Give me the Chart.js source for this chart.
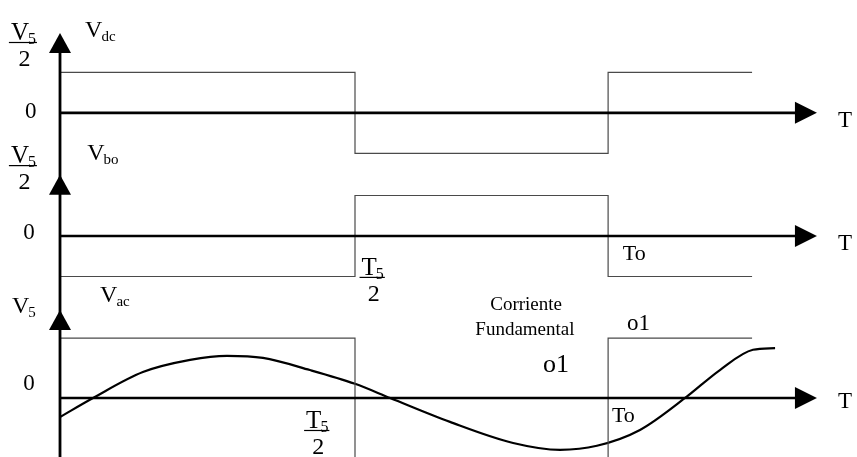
<!DOCTYPE html>
<html>
<head>
<meta charset="utf-8">
<script src="https://cdn.jsdelivr.net/npm/chart.js@4/dist/chart.umd.min.js"></script>
<style>
  html, body { margin: 0; padding: 0; background: #fff; }
  canvas { display: block; }
</style>
</head>
<body>
<canvas id="waveChart" width="857" height="457"></canvas>
<script>
// time axis in units of T5/2, origin at the vertical axis
const switchTimes = [0, 1.0, 1.858, 2.346]; // start, T5/2, To, end of drawn wave
const vdcLevels = [1, -1, 1];
const vboLevels = [-1, 1, -1];
const vacLevels = [1.48, -3, 1.48];   // middle level runs below the picture

// fundamental current
const sineTimes  = [0, 0.112, 0.281, 0.441, 0.566, 0.688, 0.847, 1.0, 1.119, 1.322, 1.536, 1.695, 1.82, 1.966, 2.119, 2.237, 2.349, 2.424];
const sineValues = [-0.47, 0, 0.64, 0.94, 1.04, 0.99, 0.69, 0.35, 0, -0.59, -1.11, -1.28, -1.18, -0.79, 0, 0.69, 1.19, 1.23];

const panelZero = [7.04, 4.0, 0];     // zero line of each trace
const arrowTops = [9.01, 5.51, 2.17]; // tip of each vertical arrow
const axisEnd = 2.566;                // tip of the time arrows

const SERIF = "'Liberation Serif', 'DejaVu Serif', serif";

// text annotations in chart units
const fracLabels = [
    { main: 'V', sub: '5', den: '2', t: -0.124, v: 8.79 },
    { main: 'V', sub: '5', den: '2', t: -0.124, v: 5.75 },
    { main: 'T', sub: '5', den: '2', t: 1.06, v: 2.99 },
    { main: 'T', sub: '5', den: '2', t: 0.872, v: -0.79 }
];
const subLabels = [
    { main: 'V', sub: 'dc', t: 0.085, v: 8.91 },
    { main: 'V', sub: 'bo', t: 0.092, v: 5.88 },
    { main: 'V', sub: 'ac', t: 0.136, v: 2.37 },
    { main: 'V', sub: '5', t: -0.163, v: 2.10 }
];
const plainLabels = [
    { text: '0', t: -0.119, v: 6.91, size: 23 },
    { text: '0', t: -0.125, v: 3.93, size: 23 },
    { text: '0', t: -0.125, v: 0.20, size: 23 },
    { text: 'T', t: 2.637, v: 6.69, size: 23 },
    { text: 'T', t: 2.637, v: 3.65, size: 23 },
    { text: 'T', t: 2.637, v: -0.25, size: 23 },
    { text: 'To', t: 1.908, v: 3.41, size: 22 },
    { text: 'To', t: 1.871, v: -0.59, size: 22 },
    { text: 'o1', t: 1.922, v: 1.68, size: 23 },
    { text: 'o1', t: 1.637, v: 0.64, size: 26 }
];
const centerLabels = [
    { text: 'Corriente', t: 1.58, v: 2.17, size: 19 },
    { text: 'Fundamental', t: 1.576, v: 1.56, size: 19 }
];

function squareWave(levels, zero) {
    const pts = [];
    levels.forEach((lvl, i) => {
        pts.push({ x: switchTimes[i], y: zero + lvl });
        pts.push({ x: switchTimes[i + 1], y: zero + lvl });
    });
    return pts;
}

const sinePoints = sineTimes.map((t, i) => ({ x: t, y: panelZero[2] + sineValues[i] }));

function waveSet(data) {
    return {
        data: data,
        showLine: true,
        borderColor: '#4a4a4a',
        borderWidth: 1.2,
        pointRadius: 0,
        tension: 0
    };
}

function drawSub(ctx, x, y, main, sub, size) {
    ctx.textAlign = 'left';
    ctx.font = `${size}px ${SERIF}`;
    ctx.fillText(main, x, y);
    const w = ctx.measureText(main).width;
    ctx.font = `${Math.round(size * 0.64)}px ${SERIF}`;
    ctx.fillText(sub, x + w - 1, y + size * 0.17);
}

function drawFrac(ctx, cx, lineY, lbl) {
    const size = 25;
    ctx.font = `${size}px ${SERIF}`;
    const w1 = ctx.measureText(lbl.main).width;
    ctx.font = `${Math.round(size * 0.64)}px ${SERIF}`;
    const w2 = ctx.measureText(lbl.sub).width;
    const w = w1 + w2 - 1;
    drawSub(ctx, cx - w / 2, lineY - 2, lbl.main, lbl.sub, size);
    ctx.beginPath();
    ctx.lineWidth = 1.2;
    ctx.moveTo(cx - w / 2 - 2, lineY + 0.5);
    ctx.lineTo(cx + w / 2 + 1, lineY + 0.5);
    ctx.stroke();
    ctx.font = `24px ${SERIF}`;
    ctx.textAlign = 'center';
    ctx.fillText(lbl.den, cx + 1, lineY + 24);
}

const diagramPlugin = {
    id: 'diagram',
    afterDatasetsDraw(chart) {
        const ctx = chart.ctx;
        const xs = chart.scales.x;
        const ys = chart.scales.y;
        const x0 = xs.getPixelForValue(0);
        const xEnd = xs.getPixelForValue(axisEnd);
        ctx.save();
        ctx.fillStyle = '#000';
        ctx.strokeStyle = '#000';

        // vertical axis
        ctx.lineWidth = 2.8;
        ctx.beginPath();
        ctx.moveTo(x0, ys.getPixelForValue(arrowTops[0]) + 10);
        ctx.lineTo(x0, chart.chartArea.bottom);
        ctx.stroke();
        arrowTops.forEach(v => {
            const tip = ys.getPixelForValue(v);
            ctx.beginPath();
            ctx.moveTo(x0, tip);
            ctx.lineTo(x0 + 11, tip + 20);
            ctx.lineTo(x0 - 11, tip + 20);
            ctx.closePath();
            ctx.fill();
        });

        // time axes
        panelZero.forEach(z => {
            const y = ys.getPixelForValue(z);
            ctx.lineWidth = 2.6;
            ctx.beginPath();
            ctx.moveTo(x0, y);
            ctx.lineTo(xEnd - 12, y);
            ctx.stroke();
            ctx.beginPath();
            ctx.moveTo(xEnd, y);
            ctx.lineTo(xEnd - 22, y - 11);
            ctx.lineTo(xEnd - 22, y + 11);
            ctx.closePath();
            ctx.fill();
        });

        // text
        ctx.textBaseline = 'alphabetic';
        fracLabels.forEach(l => drawFrac(ctx, xs.getPixelForValue(l.t), ys.getPixelForValue(l.v), l));
        subLabels.forEach(l => drawSub(ctx, xs.getPixelForValue(l.t), ys.getPixelForValue(l.v), l.main, l.sub, 24));
        plainLabels.forEach(l => {
            ctx.font = `${l.size}px ${SERIF}`;
            ctx.textAlign = 'left';
            ctx.fillText(l.text, xs.getPixelForValue(l.t), ys.getPixelForValue(l.v));
        });
        centerLabels.forEach(l => {
            ctx.font = `${l.size}px ${SERIF}`;
            ctx.textAlign = 'center';
            ctx.fillText(l.text, xs.getPixelForValue(l.t), ys.getPixelForValue(l.v));
        });
        ctx.restore();
    }
};

new Chart(document.getElementById('waveChart').getContext('2d'), {
    type: 'scatter',
    data: {
        datasets: [
            waveSet(squareWave(vdcLevels, panelZero[0])),
            waveSet(squareWave(vboLevels, panelZero[1])),
            waveSet(squareWave(vacLevels, panelZero[2])),
            {
                data: sinePoints,
                showLine: true,
                borderColor: '#000',
                borderWidth: 2.2,
                pointRadius: 0,
                cubicInterpolationMode: 'monotone'
            }
        ]
    },
    options: {
        responsive: false,
        animation: false,
        layout: { padding: 0 },
        plugins: { legend: { display: false }, tooltip: { enabled: false } },
        scales: {
            x: { type: 'linear', min: -0.2034, max: 2.7017, display: false },
            y: { type: 'linear', min: -1.457, max: 9.827, display: false }
        }
    },
    plugins: [diagramPlugin]
});
</script>
</body>
</html>
